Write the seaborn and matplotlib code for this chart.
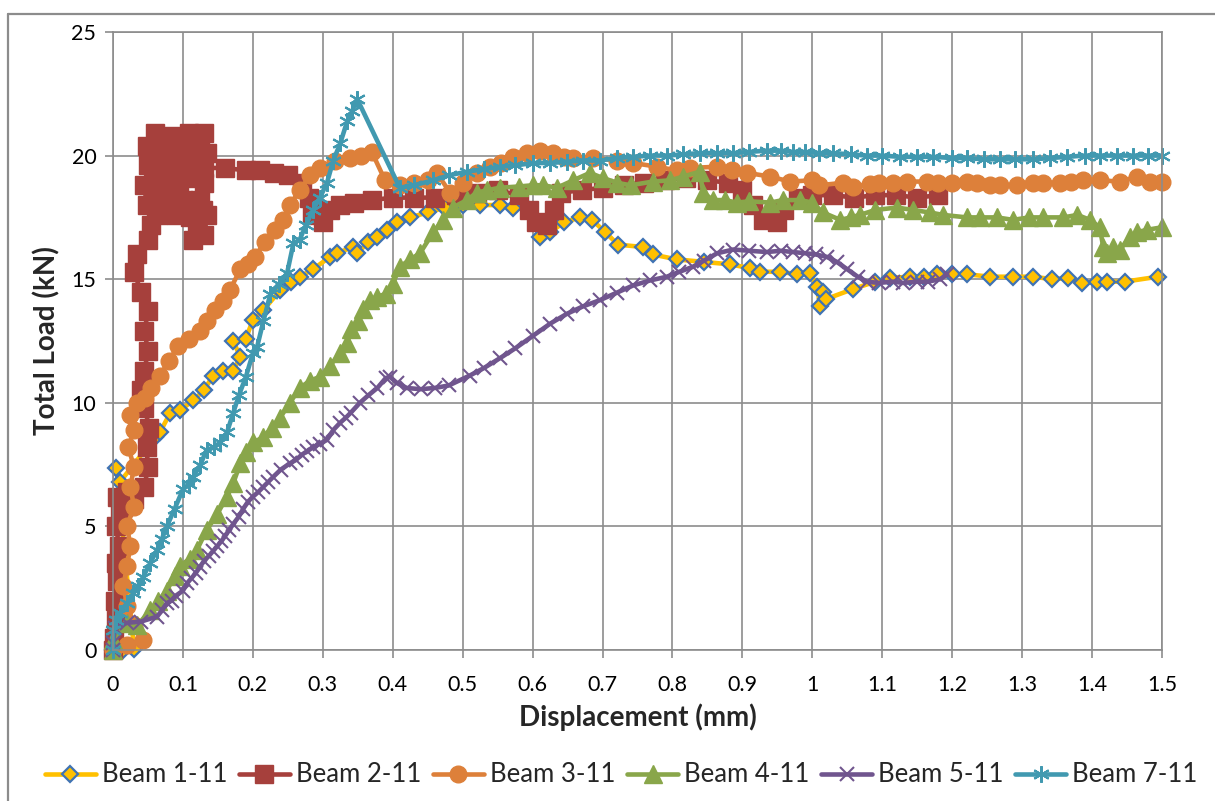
import matplotlib
matplotlib.use("Agg")
import matplotlib.pyplot as plt
from matplotlib.lines import Line2D
import pandas as pd
import seaborn as sns

# Load-displacement curves, (displacement mm, total load kN)
beam_1 = [(0, 0), (0.015, 0.0), (0.03, 0.05), (0.005, 7.35), (0.01, 6.8), (0.06, 8.6), (0.067, 8.8),
          (0.082, 9.6), (0.096, 9.7), (0.115, 10.1), (0.13, 10.5), (0.143, 11.1), (0.157, 11.3),
          (0.172, 11.3), (0.182, 11.85), (0.172, 12.5), (0.19, 12.6), (0.2, 13.35), (0.215, 13.75),
          (0.239, 14.55), (0.255, 14.9), (0.267, 15.1), (0.286, 15.4), (0.31, 15.9), (0.32, 16.05),
          (0.343, 16.3), (0.349, 16.05), (0.365, 16.5), (0.378, 16.7), (0.392, 17.0), (0.406, 17.3),
          (0.425, 17.5), (0.45, 17.7), (0.475, 17.9), (0.5, 18.0), (0.525, 18.0), (0.553, 18.0),
          (0.572, 17.9), (0.595, 17.8), (0.61, 16.7), (0.625, 16.9), (0.645, 17.3), (0.668, 17.5),
          (0.685, 17.4), (0.704, 16.9), (0.722, 16.4), (0.758, 16.3), (0.772, 16.0), (0.806, 15.8),
          (0.845, 15.7), (0.882, 15.6), (0.911, 15.45), (0.925, 15.3), (0.954, 15.3), (0.978, 15.2),
          (0.997, 15.25), (1.007, 14.7), (1.011, 13.9), (1.015, 14.5), (1.02, 14.2), (1.058, 14.6),
          (1.09, 14.9), (1.111, 15.05), (1.14, 15.1), (1.16, 15.1), (1.178, 15.2), (1.2, 15.2),
          (1.221, 15.2), (1.254, 15.1), (1.287, 15.1), (1.316, 15.1), (1.343, 15.0), (1.366, 15.05),
          (1.386, 14.85), (1.407, 14.9), (1.421, 14.9), (1.447, 14.9), (1.494, 15.1)]

beam_2 = [(0, 0), (0.002, 0.5), (0.004, 1.2), (0.003, 2.0), (0.006, 2.8), (0.004, 3.5), (0.008, 4.2),
          (0.005, 5.0), (0.01, 5.6), (0.006, 6.2), (0.015, 5.8), (0.02, 6.4), (0.03, 6.1), (0.045, 6.6),
          (0.05, 7.4), (0.048, 8.2), (0.052, 9.0), (0.045, 9.8), (0.04, 10.5), (0.045, 11.3),
          (0.05, 12.1), (0.045, 12.9), (0.05, 13.7), (0.04, 14.5), (0.03, 15.3), (0.035, 16.0),
          (0.05, 16.6), (0.055, 17.2), (0.048, 18.0), (0.045, 18.8), (0.05, 19.6), (0.048, 20.4),
          (0.06, 20.9), (0.072, 20.5), (0.065, 19.8), (0.06, 19.0), (0.058, 18.2), (0.065, 17.6),
          (0.075, 18.3), (0.07, 19.2), (0.078, 20.1), (0.085, 20.8), (0.09, 20.0), (0.082, 19.0),
          (0.08, 17.8), (0.09, 17.6), (0.095, 18.5), (0.09, 19.5), (0.1, 20.4), (0.108, 20.9),
          (0.11, 20.0), (0.105, 19.1), (0.1, 18.2), (0.11, 17.5), (0.115, 16.6), (0.12, 17.2),
          (0.125, 18.2), (0.12, 19.2), (0.125, 20.2), (0.13, 20.9), (0.135, 20.1), (0.13, 18.9),
          (0.128, 17.8), (0.13, 16.8), (0.135, 17.6), (0.13, 19.5), (0.16, 19.5), (0.19, 19.4),
          (0.21, 19.4), (0.23, 19.3), (0.25, 19.2), (0.27, 18.9), (0.28, 18.3), (0.285, 17.6),
          (0.3, 17.3), (0.31, 17.8), (0.325, 18.0), (0.345, 18.1), (0.37, 18.2), (0.4, 18.3),
          (0.43, 18.3), (0.46, 18.3), (0.49, 18.4), (0.52, 18.5), (0.55, 18.6), (0.58, 18.4),
          (0.595, 17.8), (0.605, 17.3), (0.62, 17.2), (0.63, 17.8), (0.64, 18.5), (0.67, 18.6),
          (0.7, 18.7), (0.73, 18.8), (0.76, 18.9), (0.79, 19.0), (0.82, 19.1), (0.85, 19.0),
          (0.88, 18.9), (0.9, 18.6), (0.915, 18.0), (0.93, 17.4), (0.95, 17.3), (0.96, 17.8),
          (0.98, 18.3), (1.0, 18.4), (1.03, 18.4), (1.06, 18.3), (1.09, 18.4), (1.12, 18.4),
          (1.15, 18.3), (1.18, 18.4)]

beam_3 = [(0, 0), (0.02, 0.2), (0.043, 0.4), (0.03, 1.0), (0.02, 1.8), (0.015, 2.6), (0.02, 3.4),
          (0.025, 4.2), (0.02, 5.0), (0.03, 5.8), (0.025, 6.6), (0.03, 7.4), (0.022, 8.2), (0.03, 8.9),
          (0.025, 9.5), (0.035, 10.0), (0.046, 10.2), (0.055, 10.6), (0.067, 11.1), (0.08, 11.7),
          (0.093, 12.3), (0.108, 12.6), (0.124, 12.9), (0.135, 13.3), (0.146, 13.75), (0.157, 14.1),
          (0.167, 14.55), (0.182, 15.4), (0.193, 15.6), (0.203, 15.9), (0.217, 16.5), (0.232, 17.0),
          (0.243, 17.4), (0.253, 18.0), (0.267, 18.6), (0.282, 19.2), (0.296, 19.5), (0.318, 19.8),
          (0.339, 19.9), (0.355, 20.0), (0.37, 20.15), (0.389, 19.0), (0.41, 18.8), (0.43, 18.9),
          (0.45, 19.0), (0.463, 19.3), (0.482, 18.5), (0.5, 18.9), (0.52, 19.3), (0.539, 19.55),
          (0.555, 19.7), (0.572, 19.95), (0.592, 20.1), (0.61, 20.2), (0.629, 20.1), (0.645, 19.95),
          (0.658, 19.9), (0.686, 19.9), (0.72, 19.8), (0.744, 19.7), (0.778, 19.55), (0.806, 19.4),
          (0.825, 19.5), (0.864, 19.55), (0.885, 19.4), (0.907, 19.3), (0.94, 19.15), (0.968, 18.95),
          (1.0, 19.0), (1.01, 18.8), (1.044, 18.9), (1.058, 18.75), (1.083, 18.85), (1.095, 18.9),
          (1.115, 18.9), (1.135, 18.95), (1.164, 18.95), (1.18, 18.9), (1.2, 18.9), (1.221, 18.95),
          (1.235, 18.9), (1.254, 18.8), (1.268, 18.8), (1.293, 18.8), (1.316, 18.9), (1.33, 18.9),
          (1.354, 18.9), (1.37, 18.95), (1.387, 19.0), (1.411, 19.0), (1.44, 18.95), (1.464, 19.15),
          (1.483, 18.95), (1.5, 18.95)]

beam_4 = [(0, 0), (0.0, 0.4), (0.02, 1.1), (0.035, 1.0), (0.053, 1.6), (0.065, 2.0), (0.077, 2.4),
          (0.088, 3.0), (0.096, 3.4), (0.11, 3.7), (0.12, 4.05), (0.134, 4.85), (0.149, 5.5),
          (0.163, 6.2), (0.172, 6.75), (0.182, 7.55), (0.19, 8.0), (0.2, 8.4), (0.215, 8.6),
          (0.227, 9.0), (0.239, 9.4), (0.253, 10.0), (0.267, 10.6), (0.282, 10.9), (0.296, 11.05),
          (0.31, 11.5), (0.325, 12.0), (0.335, 12.4), (0.34, 13.0), (0.35, 13.3), (0.358, 13.8),
          (0.367, 14.15), (0.378, 14.3), (0.39, 14.4), (0.4, 14.8), (0.41, 15.5), (0.425, 15.8),
          (0.439, 16.05), (0.458, 16.9), (0.472, 17.4), (0.486, 17.9), (0.506, 18.2), (0.52, 18.5),
          (0.535, 18.6), (0.553, 18.7), (0.58, 18.75), (0.6, 18.8), (0.615, 18.8), (0.635, 18.7),
          (0.658, 19.0), (0.682, 19.3), (0.7, 19.1), (0.721, 18.9), (0.74, 18.8), (0.772, 18.95),
          (0.797, 19.0), (0.815, 19.15), (0.839, 19.35), (0.844, 18.5), (0.858, 18.2), (0.875, 18.2),
          (0.892, 18.1), (0.91, 18.15), (0.94, 18.1), (0.958, 18.2), (0.982, 18.2), (1.0, 18.1),
          (1.015, 17.7), (1.04, 17.4), (1.055, 17.5), (1.068, 17.6), (1.09, 17.8), (1.121, 17.9),
          (1.144, 17.8), (1.168, 17.7), (1.187, 17.6), (1.221, 17.5), (1.24, 17.5), (1.264, 17.5),
          (1.287, 17.4), (1.31, 17.5), (1.33, 17.5), (1.359, 17.5), (1.379, 17.6), (1.397, 17.4),
          (1.411, 17.1), (1.416, 16.3), (1.421, 16.05), (1.43, 16.3), (1.44, 16.2), (1.454, 16.7),
          (1.464, 16.9), (1.479, 17.0), (1.5, 17.1)]

beam_5 = [(0, 0), (0.0, 0.3), (0.003, 0.9), (0.02, 1.1), (0.04, 1.15), (0.063, 1.35), (0.07, 1.6),
          (0.077, 1.9), (0.084, 2.0), (0.09, 2.2), (0.1, 2.4), (0.106, 2.7), (0.112, 2.9),
          (0.118, 3.1), (0.124, 3.35), (0.13, 3.6), (0.137, 3.8), (0.143, 4.0), (0.149, 4.2),
          (0.155, 4.4), (0.16, 4.6), (0.166, 4.85), (0.172, 5.1), (0.18, 5.4), (0.186, 5.7),
          (0.193, 6.0), (0.2, 6.2), (0.208, 6.4), (0.215, 6.6), (0.222, 6.8), (0.229, 7.0),
          (0.24, 7.3), (0.253, 7.55), (0.262, 7.7), (0.27, 7.9), (0.278, 8.05), (0.286, 8.2),
          (0.296, 8.35), (0.306, 8.5), (0.315, 8.9), (0.325, 9.2), (0.333, 9.4), (0.34, 9.6),
          (0.353, 10.0), (0.365, 10.3), (0.378, 10.6), (0.39, 11.0), (0.396, 11.05), (0.406, 10.8),
          (0.42, 10.6), (0.44, 10.55), (0.46, 10.6), (0.48, 10.7), (0.51, 11.1), (0.53, 11.4),
          (0.553, 11.8), (0.575, 12.2), (0.6, 12.7), (0.625, 13.2), (0.649, 13.6), (0.672, 13.9),
          (0.696, 14.15), (0.72, 14.45), (0.744, 14.75), (0.768, 14.95), (0.792, 15.1), (0.81, 15.3),
          (0.829, 15.5), (0.845, 15.75), (0.864, 16.05), (0.887, 16.2), (0.91, 16.15), (0.935, 16.1),
          (0.955, 16.15), (0.972, 16.1), (0.99, 16.05), (1.005, 16.0), (1.021, 15.9), (1.035, 15.7),
          (1.05, 15.4), (1.065, 15.1), (1.078, 14.9), (1.095, 14.85), (1.115, 14.9), (1.13, 14.85),
          (1.15, 14.9), (1.165, 14.9), (1.183, 15.0), (1.193, 15.2)]

beam_7 = [(0, 0), (0.0, 0.8), (0.005, 1.2), (0.01, 1.5), (0.02, 1.9), (0.029, 2.3), (0.036, 2.6),
          (0.043, 2.95), (0.053, 3.5), (0.063, 4.05), (0.07, 4.5), (0.077, 5.0), (0.088, 5.7),
          (0.1, 6.5), (0.108, 6.7), (0.115, 7.0), (0.125, 7.5), (0.134, 8.1), (0.145, 8.2),
          (0.153, 8.4), (0.163, 8.8), (0.172, 9.6), (0.18, 10.3), (0.19, 11.05), (0.2, 12.0),
          (0.206, 12.25), (0.215, 13.3), (0.225, 14.4), (0.237, 14.8), (0.249, 15.25), (0.258, 16.45),
          (0.267, 16.6), (0.276, 17.2), (0.286, 17.8), (0.296, 18.3), (0.306, 18.9), (0.315, 19.8),
          (0.325, 20.5), (0.335, 21.4), (0.342, 21.8), (0.349, 22.3), (0.41, 18.7), (0.43, 18.8),
          (0.458, 19.0), (0.48, 19.2), (0.506, 19.35), (0.53, 19.45), (0.553, 19.55), (0.575, 19.6),
          (0.6, 19.7), (0.625, 19.7), (0.649, 19.75), (0.672, 19.8), (0.696, 19.8), (0.72, 19.9),
          (0.744, 19.95), (0.768, 20.0), (0.792, 20.0), (0.815, 20.05), (0.839, 20.1), (0.863, 20.1),
          (0.887, 20.1), (0.91, 20.15), (0.935, 20.2), (0.955, 20.2), (0.972, 20.15), (0.99, 20.15),
          (1.01, 20.1), (1.03, 20.1), (1.055, 20.05), (1.078, 20.0), (1.1, 20.0), (1.125, 19.95),
          (1.15, 19.95), (1.173, 19.95), (1.2, 19.9), (1.221, 19.9), (1.245, 19.85), (1.268, 19.85),
          (1.29, 19.85), (1.316, 19.85), (1.34, 19.9), (1.364, 19.95), (1.39, 20.0), (1.411, 20.0),
          (1.435, 20.0), (1.459, 20.0), (1.48, 20.0), (1.5, 20.0)]

series_names = ["Beam 1-11", "Beam 2-11", "Beam 3-11", "Beam 4-11", "Beam 5-11", "Beam 7-11"]
series_data = [beam_1, beam_2, beam_3, beam_4, beam_5, beam_7]

x_ticks = [0, 0.1, 0.2, 0.3, 0.4, 0.5, 0.6, 0.7, 0.8, 0.9, 1, 1.1, 1.2, 1.3, 1.4, 1.5]
x_tick_labels = ["0", "0.1", "0.2", "0.3", "0.4", "0.5", "0.6", "0.7", "0.8", "0.9",
                 "1", "1.1", "1.2", "1.3", "1.4", "1.5"]
y_ticks = [0, 5, 10, 15, 20, 25]

# Line/marker styling per series
styles = [
    dict(color="#FFC000", marker="D", markersize=8.5, markerfacecolor="#FFC000",
         markeredgecolor="#3F73B4", markeredgewidth=1.6),
    dict(color="#A6403C", marker="s", markersize=12.5, markerfacecolor="#A6403C",
         markeredgecolor="#A6403C", markeredgewidth=1.0),
    dict(color="#DD803A", marker="o", markersize=12, markerfacecolor="#DD803A",
         markeredgecolor="#DD803A", markeredgewidth=1.0),
    dict(color="#89A64A", marker="^", markersize=12.5, markerfacecolor="#89A64A",
         markeredgecolor="#89A64A", markeredgewidth=1.0),
    dict(color="#70558E", marker="x", markersize=10.5, markeredgecolor="#70558E",
         markeredgewidth=1.5),
    dict(color="#4199B0", marker=(6, 2, 0), markersize=12, markeredgecolor="#4199B0",
         markeredgewidth=1.5),
]

sns.set_style("white")
plt.rcParams["font.family"] = ["Lato", "DejaVu Sans"]

fig = plt.figure(figsize=(12.15, 8.01), dpi=100)
ax = fig.add_axes([113 / 1215, 1 - 650 / 801, (1162 - 113) / 1215, (650 - 32) / 801])

grid_color = "#8C8C8C"
for name, pts, st in zip(series_names, series_data, styles):
    df = pd.DataFrame(pts, columns=["Displacement", "Load"])
    sns.lineplot(data=df, x="Displacement", y="Load", sort=False, estimator=None,
                 ax=ax, label=name, linewidth=3.3, clip_on=False, **st)

ax.set_xlim(0, 1.5)
ax.set_ylim(0, 25)
ax.set_xticks(x_ticks)
ax.set_xticklabels(x_tick_labels)
ax.set_yticks(y_ticks)
ax.grid(True, color=grid_color, linewidth=1.2)
ax.set_axisbelow(True)
for sp in ax.spines.values():
    sp.set_color(grid_color)
    sp.set_linewidth(1.2)
ax.tick_params(axis="both", which="major", direction="out", length=6, width=1.2,
               color=grid_color, labelsize=15.5, labelcolor="black",
               bottom=True, left=True)
ax.tick_params(axis="x", pad=12)
ax.tick_params(axis="y", pad=6)

ax.set_xlabel("Displacement (mm)", fontsize=20, fontweight="bold", labelpad=6)
ax.set_ylabel("Total Load (kN)", fontsize=20, fontweight="bold", labelpad=8)

leg = ax.legend(loc="center", bbox_to_anchor=(621 / 1215, 1 - 775 / 801),
                bbox_transform=fig.transFigure, ncol=6, frameon=False,
                fontsize=18.5, handlelength=2.0, handletextpad=0.22, columnspacing=0.45,
                borderaxespad=0)

# Chart-area frame
fig.add_artist(Line2D([8 / 1215, 8 / 1215], [0, 1 - 14 / 801], transform=fig.transFigure,
                      color="#8C8C8C", linewidth=1.6))
fig.add_artist(Line2D([8 / 1215, 1], [1 - 14 / 801, 1 - 14 / 801], transform=fig.transFigure,
                      color="#8C8C8C", linewidth=1.6))

fig.savefig("out.png", dpi=100)
